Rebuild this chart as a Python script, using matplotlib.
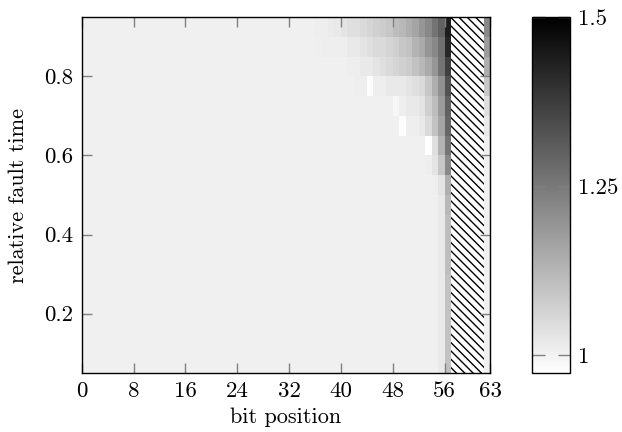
import numpy as np
import matplotlib
matplotlib.use('Agg')
import matplotlib.pyplot as plt
from matplotlib.patches import Rectangle

plt.rcParams['font.family'] = 'cmr10'
plt.rcParams['mathtext.fontset'] = 'cm'
plt.rcParams['axes.formatter.use_mathtext'] = True
plt.rcParams['axes.unicode_minus'] = False
plt.rcParams['hatch.linewidth'] = 1.0

# cell edges: bit positions and relative fault time
bit_edges = list(range(0, 64))
time_edges = [0.05, 0.10, 0.15, 0.20, 0.25, 0.30, 0.35, 0.40, 0.45, 0.50,
              0.55, 0.60, 0.65, 0.70, 0.75, 0.80, 0.85, 0.90, 0.95]

background = 1.004
tail_first_bit = 36
# speedup for bits 36..56, one row per fault time (bottom row first)
tail_speedup = [
    [1.004] * 19 + [1.02, 1.10],   # 0.05
    [1.004] * 19 + [1.02, 1.10],   # 0.10
    [1.004] * 19 + [1.02, 1.10],   # 0.15
    [1.004] * 19 + [1.02, 1.10],   # 0.20
    [1.004] * 19 + [1.02, 1.10],   # 0.25
    [1.004] * 19 + [1.02, 1.11],   # 0.30
    [1.004] * 19 + [1.02, 1.11],   # 0.35
    [1.004] * 19 + [1.02, 1.11],   # 0.40
    [1.004] * 19 + [1.02, 1.12],   # 0.45
    [1.004] * 18 + [1.01, 1.03, 1.14],   # 0.50
    [1.004] * 17 + [1.01, 1.03, 1.09, 1.22],   # 0.55
    [1.004] * 17 + [0.975, 1.04, 1.13, 1.26],  # 0.60
    [1.004] * 13 + [0.98, 1.01, 1.01, 1.02, 1.05, 1.10, 1.16, 1.29],  # 0.65
    [1.004] * 12 + [0.99, 1.01, 1.02, 1.02, 1.03, 1.07, 1.11, 1.18, 1.30],  # 0.70
    [1.004] * 4 + [1.004, 1.004, 1.01, 1.01, 0.98, 1.01, 1.01, 1.02, 1.02,
                   1.02, 1.03, 1.04, 1.05, 1.09, 1.14, 1.20, 1.33],  # 0.75
    [1.004] * 4 + [1.004, 1.01, 1.01, 1.02, 1.02, 1.03, 1.04, 1.05, 1.06,
                   1.07, 1.08, 1.10, 1.12, 1.15, 1.19, 1.26, 1.37],  # 0.80
    [1.006, 1.008, 1.01, 1.01] + [1.01, 1.02, 1.02, 1.03, 1.04, 1.05, 1.05, 1.06, 1.07,
                                  1.09, 1.10, 1.13, 1.15, 1.19, 1.22, 1.27, 1.42],  # 0.85
    [1.008, 1.01, 1.015, 1.02] + [1.03, 1.04, 1.04, 1.05, 1.06, 1.07, 1.08, 1.09, 1.11,
                                  1.12, 1.14, 1.16, 1.19, 1.22, 1.26, 1.30, 1.44],  # 0.90
]
# missing bits (hatched) and the sign bit column
missing_bits = (57, 62)
msb_speedup = [1.004, 1.004, 1.004, 1.004, 1.004, 1.004, 1.004, 1.004, 1.004,
               1.004, 1.004, 1.004, 1.02, 1.04, 1.09, 1.14, 1.18, 1.22]

grid = np.full((len(time_edges) - 1, len(bit_edges) - 1), background)
for r, row in enumerate(tail_speedup):
    grid[r, tail_first_bit:tail_first_bit + len(row)] = row
grid[:, missing_bits[0]:missing_bits[1]] = np.nan
grid[:, -1] = msb_speedup

fig = plt.figure(figsize=(6.22, 4.32), dpi=100)
ax = fig.add_axes([0.1314, 0.1366, 0.6564, 0.824])
cax = fig.add_axes([0.8553, 0.1366, 0.0611, 0.824])

mesh = ax.pcolormesh(bit_edges, time_edges, np.ma.masked_invalid(grid),
                     cmap='gray_r', vmin=0.973, vmax=1.5)
ax.add_patch(Rectangle((missing_bits[0], time_edges[0]), missing_bits[1] - missing_bits[0],
                       time_edges[-1] - time_edges[0], facecolor='white',
                       edgecolor='black', hatch='\\\\\\\\', linewidth=0))

ax.set_xlim(0, 63)
ax.set_ylim(0.05, 0.95)
ax.set_xticks([0, 8, 16, 24, 32, 40, 48, 56, 63])
ax.set_xticklabels(['0', '8', '16', '24', '32', '40', '48', '56', '63'])
ax.set_yticks([0.2, 0.4, 0.6, 0.8])
ax.set_yticklabels(['0.2', '0.4', '0.6', '0.8'])
ax.tick_params(direction='in', length=7.5, width=1, color='#808080',
               top=True, right=True, labelsize=16.5, pad=6)
for s in ax.spines.values():
    s.set_linewidth(1.0)
ax.set_xlabel('bit position', fontsize=16, labelpad=5)
ax.set_ylabel('relative fault time', fontsize=16, labelpad=12)

cb = fig.colorbar(mesh, cax=cax, ticks=[1, 1.25, 1.5])
cb.ax.set_yticklabels(['1', '1.25', '1.5'])
cax.tick_params(direction='in', length=9, width=1, color='#808080',
                left=True, right=True, labelsize=16.5, pad=6)
cb.outline.set_linewidth(1.0)

plt.savefig('out.png', dpi=100)
